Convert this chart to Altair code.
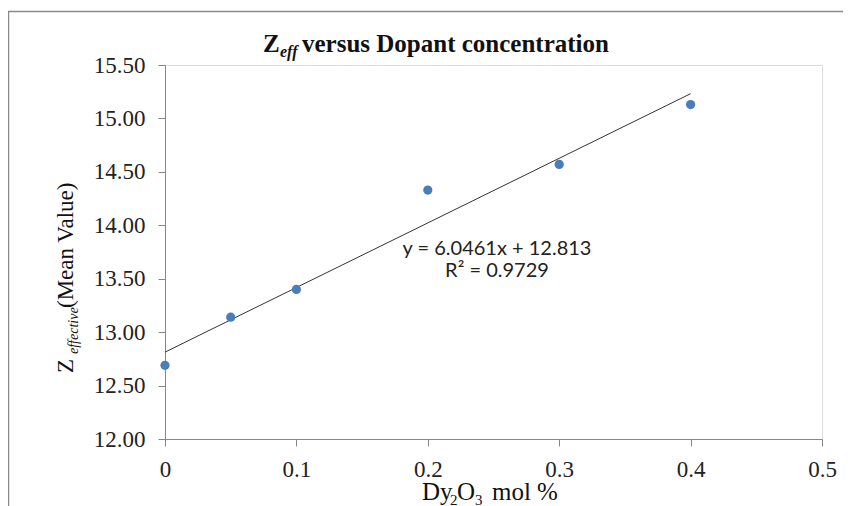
import altair as alt
import pandas as pd

# ---- data ----
dopant = [0.0, 0.05, 0.1, 0.2, 0.3, 0.4]
zeff = [12.69, 13.14, 13.40, 14.33, 14.57, 15.13]
fit_slope = 6.0461
fit_intercept = 12.813
fit_x = [0.0, 0.4]
x_ticks = [0, 0.1, 0.2, 0.3, 0.4, 0.5]
y_ticks = [12.0, 12.5, 13.0, 13.5, 14.0, 14.5, 15.0, 15.5]
eq_lines = ["y = 6.0461x + 12.813", "R² = 0.9729"]

W, H = 657, 374
SERIF = "Liberation Serif"

pts = pd.DataFrame({"x": dopant, "y": zeff})
fit = pd.DataFrame({"x": fit_x, "y": [fit_slope * v + fit_intercept for v in fit_x]})

xs = alt.Scale(domain=[0, 0.5], nice=False, zero=False)
ys = alt.Scale(domain=[12, 15.5], nice=False, zero=False)

x_axis = alt.Axis(values=x_ticks, format=".1~f", title="", grid=False,
                  domainColor="#868686", tickColor="#868686", tickSize=7,
                  labelFont=SERIF, labelFontSize=23, labelColor="#222222",
                  labelPadding=12, labelFlush=False, labelOverlap=False)
y_axis = alt.Axis(values=y_ticks, format=".2f", title="", grid=False,
                  domainColor="#868686", tickColor="#868686", tickSize=7,
                  labelFont=SERIF, labelFontSize=23, labelColor="#222222",
                  labelPadding=13, labelOverlap=False)

one = pd.DataFrame({"a": [0]})
frame_top = alt.Chart(one).mark_rule(color="#8a8a8a", strokeWidth=1.5).encode(
    x=alt.value(-157), x2=alt.value(1000), y=alt.value(-53.5))
frame_left = alt.Chart(one).mark_rule(color="#8a8a8a", strokeWidth=1.5).encode(
    x=alt.value(-156.5), y=alt.value(-54), y2=alt.value(800))

line = alt.Chart(fit).mark_line(color="#333333", strokeWidth=1).encode(
    x=alt.X("x:Q", scale=xs, axis=x_axis),
    y=alt.Y("y:Q", scale=ys, axis=y_axis),
)

points = alt.Chart(pts).mark_point(filled=True, size=85, color="#4a7ebb", opacity=1).encode(
    x=alt.X("x:Q", scale=xs),
    y=alt.Y("y:Q", scale=ys),
)

def txt(s, x, y, size, font=SERIF, weight="normal", style="normal", align="left",
        angle=0, color="#111111"):
    return alt.Chart(pd.DataFrame({"t": [s]})).mark_text(
        font=font, fontSize=size, fontWeight=weight, fontStyle=style,
        align=align, baseline="alphabetic", angle=angle, color=color
    ).encode(x=alt.value(x), y=alt.value(y), text="t:N")

# chart title: Z_eff versus Dopant concentration
title_parts = [
    txt("Z", 98, -13, 25, weight="bold"),
    txt("eff", 115, -8, 16, weight="bold", style="italic"),
    txt("versus Dopant concentration", 137, -13, 25, weight="bold"),
]

# y axis title: Z_effective(Mean Value)
ytitle_parts = [
    txt("Z", -92, 308, 23, angle=270),
    txt("effective", -87, 289, 14, style="italic", angle=270),
    txt("(Mean Value)", -92, 243, 23, angle=270),
]

# x axis title: Dy2O3 mol %
xtitle_parts = [
    txt("Dy", 257, 435, 25),
    txt("2", 285, 440, 15),
    txt("O", 292, 435, 25),
    txt("3", 310, 440, 15),
    txt("mol", 327, 435, 25),
    txt("%", 372, 435, 25),
]

eq_parts = [
    txt(eq_lines[0], 332, 190, 20, font="Lato", align="center", color="#222222"),
    txt(eq_lines[1], 332, 212, 20, font="Lato", align="center", color="#222222"),
]

chart = alt.layer(
    frame_top, frame_left, line, points, *eq_parts, *title_parts, *ytitle_parts, *xtitle_parts
).properties(
    width=W, height=H,
    autosize=alt.AutoSizeParams(type="none"),
    padding={"left": 157, "top": 57, "right": 21, "bottom": 67},
).configure_view(strokeWidth=0).configure(background="white")

chart.save("out.html", embed_options={"renderer": "svg", "actions": False})
